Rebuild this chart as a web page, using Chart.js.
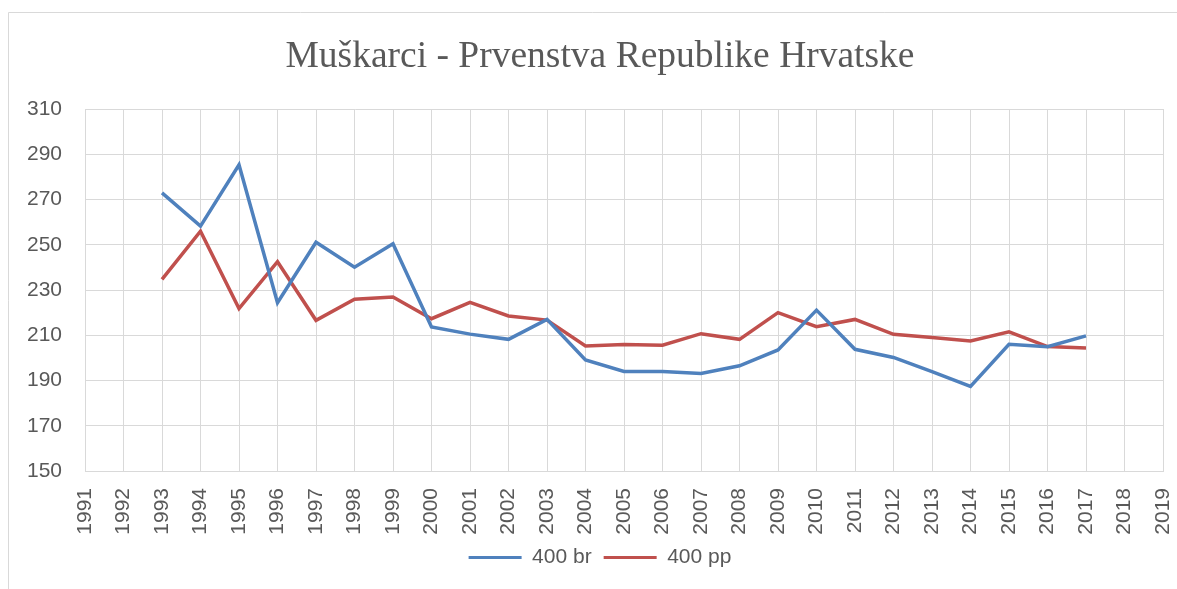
<!DOCTYPE html>
<html>
<head>
<meta charset="utf-8">
<script src="https://cdn.jsdelivr.net/npm/chart.js@4/dist/chart.umd.min.js"></script>
<style>
  html, body { margin: 0; padding: 0; background: #fff; }
  #wrap { width: 1177px; height: 589px; }
</style>
</head>
<body>
<div id="wrap"><canvas id="chart"></canvas></div>
<script>
const years = ['1991', '1992', '1993', '1994', '1995', '1996', '1997', '1998', '1999', '2000',
  '2001', '2002', '2003', '2004', '2005', '2006', '2007', '2008', '2009', '2010',
  '2011', '2012', '2013', '2014', '2015', '2016', '2017', '2018', '2019']

// 400 m prsno (br) i 400 m mješovito (pp), vremena u sekundama
const br400 = [null, null, 272.9, 258.2, 285.3, 224.4, 251.1, 240.1, 250.4, 213.7,
  210.5, 208.2, 217.0, 199.1, 194.0, 194.0, 193.1, 196.5, 203.5, 221.1,
  203.8, 200.2, 193.9, 187.4, 206.0, 204.9, 209.7, null, null]
const pp400 = [null, null, 234.7, 256.0, 221.8, 242.5, 216.6, 225.9, 226.9, 217.3,
  224.5, 218.5, 216.7, 205.3, 205.9, 205.6, 210.7, 208.2, 220.0, 213.8,
  217.0, 210.4, 209.0, 207.5, 211.5, 205.0, 204.4, null, null]

const textColor = '#595959'
const gridColor = '#d9d9d9'
const tickFont = { family: 'Liberation Sans', size: 21 }

// okvir grafikona (lijevi i gornji rub) i bijela pozadina
const frame = {
  id: 'frame',
  beforeDraw: (chart) => {
    const { ctx } = chart
    ctx.save()
    ctx.fillStyle = '#ffffff'
    ctx.fillRect(0, 0, chart.width, chart.height)
    ctx.strokeStyle = gridColor
    ctx.lineWidth = 1
    ctx.beginPath()
    ctx.moveTo(8.5, chart.height)
    ctx.lineTo(8.5, 12.5)
    ctx.lineTo(chart.width, 12.5)
    ctx.stroke()
    ctx.restore()
  }
}

new Chart(document.getElementById('chart'), {
  type: 'line',
  data: {
    labels: years,
    datasets: [{
      label: '400 br',
      data: br400,
      borderColor: '#4f81bd',
      backgroundColor: '#4f81bd',
      borderWidth: 3.5,
      pointRadius: 0,
      tension: 0
    }, {
      label: '400 pp',
      data: pp400,
      borderColor: '#c0504d',
      backgroundColor: '#c0504d',
      borderWidth: 3.5,
      pointRadius: 0,
      tension: 0
    }]
  },
  plugins: [frame],
  options: {
    responsive: true,
    maintainAspectRatio: false,
    animation: false,
    layout: {
      padding: { left: 27, right: 4, top: 0, bottom: 11 }
    },
    plugins: {
      title: {
        display: true,
        text: 'Muškarci - Prvenstva Republike Hrvatske',
        color: textColor,
        font: { family: 'Liberation Serif', size: 37.5, weight: 'normal', lineHeight: 1.2 },
        padding: { top: 35, bottom: 29 }
      },
      legend: {
        position: 'bottom',
        labels: {
          color: textColor,
          font: tickFont,
          boxWidth: 53,
          boxHeight: 3,
          padding: 12,
          generateLabels: (chart) => {
            let items = Chart.defaults.plugins.legend.labels.generateLabels(chart)
            items.forEach(item => {
              item.fillStyle = item.strokeStyle
              item.lineWidth = 0
            })
            return items
          }
        }
      },
      tooltip: { enabled: false }
    },
    scales: {
      x: {
        afterFit: (scale) => {
          scale.height = 64
          scale.paddingLeft = 0
          scale.paddingRight = 14
        },
        grid: { color: gridColor, drawTicks: false },
        border: { color: gridColor },
        ticks: {
          color: textColor,
          font: tickFont,
          minRotation: 90,
          maxRotation: 90,
          autoSkip: false,
          padding: 17
        }
      },
      y: {
        min: 150,
        max: 310,
        afterFit: (scale) => { scale.width = 58 },
        grid: { color: gridColor, drawTicks: false },
        border: { color: gridColor },
        ticks: {
          stepSize: 20,
          color: textColor,
          font: tickFont,
          padding: 23
        }
      }
    }
  }
})
</script>
</body>
</html>
